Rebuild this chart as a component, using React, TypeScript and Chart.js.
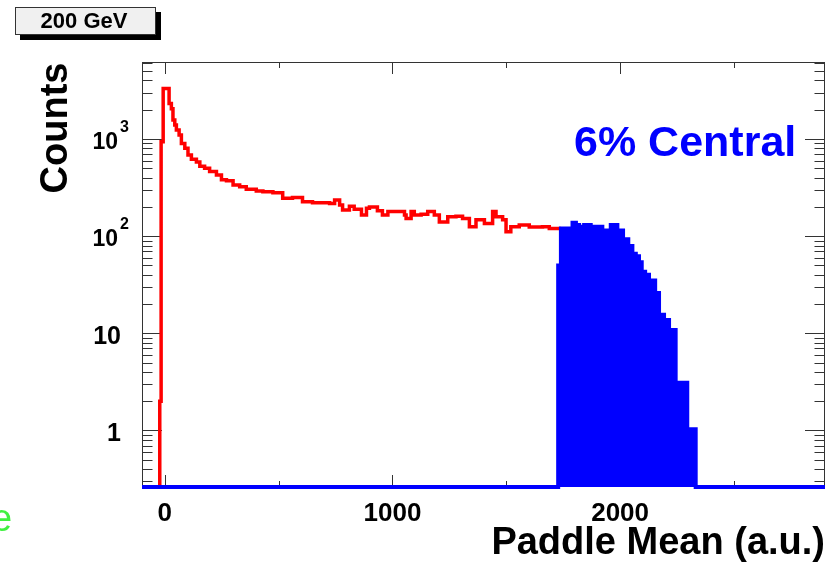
import React, { useEffect, useRef } from 'react';
import { Chart, registerables } from 'chart.js';

Chart.register(...registerables);

// ---- axis ranges & ticks ----
const xMin = -100;
const xMax = 2900;
const yMin = 0.262;
const yMax = 6194;
const floorCount = yMin; // empty bins are drawn on the axis floor (log scale)
const xMajorTicks = [0, 1000, 2000];
const xMinorTicks = [500, 1500, 2500];
const xTickLabels = ['0', '1000', '2000'];
const yDecades = [1, 10, 100, 1000];
const yLabelBases = ['1', '10', '10', '10'];
const yLabelExps = ['', '', '2', '3'];

// ---- red histogram (all events): bin edges and counts ----
const redEdges = [
  -22, -16, -7, 19, 29, 36, 44, 51, 63, 73,
  88, 102, 117, 139, 154, 175, 197, 227, 249, 271,
  300, 329, 358, 402, 431, 475, 518, 561, 605, 649,
  724, 746, 768, 781, 811, 832, 864, 886, 899, 934,
  956, 980, 1053, 1060, 1082, 1096, 1126, 1155, 1184, 1206,
  1243, 1279, 1308, 1338, 1367, 1404, 1440, 1455, 1484, 1499,
  1520, 1557, 1601, 1630, 1659, 1689, 1740,
];
const redCounts = [
  2, 935, 3300, 2320, 2050, 1570, 1390, 1240, 1100, 900,
  800, 685, 620, 580, 525, 500, 463, 425, 380, 372,
  335, 323, 303, 292, 286, 280, 245, 250, 226, 220,
  217, 235, 209, 186, 203, 189, 165, 194, 200, 183,
  165, 179, 165, 152, 179, 165, 168, 179, 165, 140,
  158, 160, 152, 125, 147, 135, 179, 158, 147, 111,
  125, 130, 124, 124, 125, 120,
];

// ---- blue histogram (6% central): bin edges and counts ----
const blueEdges = [
  1728, 1740, 1791, 1806, 1820, 1842, 1871, 1922, 1930, 1959,
  1988, 2013, 2036, 2054, 2069, 2083, 2095, 2110, 2127, 2154,
  2171, 2193, 2215, 2244, 2295, 2332,
];
const blueCounts = [
  50, 120, 137, 130, 125, 130, 125, 107, 114, 130,
  114, 93, 79, 66, 62, 54, 43, 40, 35, 26,
  15.5, 13.7, 10.8, 3.1, 1.03,
];

const FONT = '"Liberation Sans", Arial, Helvetica, sans-serif';

function redPoints() {
  const pts: { x: number; y: number }[] = [{ x: redEdges[0], y: floorCount }];
  for (let i = 0; i < redCounts.length; i++) pts.push({ x: redEdges[i], y: redCounts[i] });
  pts.push({ x: redEdges[redCounts.length], y: redCounts[redCounts.length - 1] });
  return pts;
}

function bluePoints() {
  const pts: { x: number; y: number }[] = [{ x: xMin, y: floorCount }];
  for (let i = 0; i < blueCounts.length; i++) pts.push({ x: blueEdges[i], y: blueCounts[i] });
  pts.push({ x: blueEdges[blueCounts.length], y: floorCount });
  pts.push({ x: xMax, y: floorCount });
  return pts;
}

const rootStyle = {
  id: 'rootStyle',
  beforeDatasetsDraw(chart: any) {
    const { ctx, chartArea: a, scales } = chart;
    const x = scales.x;
    const y = scales.y;
    ctx.save();
    ctx.strokeStyle = '#333';
    ctx.lineWidth = 1;
    ctx.strokeRect(a.left + 0.5, a.top + 0.5, a.right - a.left - 1, a.bottom - a.top - 1);
    ctx.beginPath();
    const xt = (v: number, len: number) => {
      const px = Math.round(x.getPixelForValue(v)) + 0.5;
      ctx.moveTo(px, a.bottom);
      ctx.lineTo(px, a.bottom - len);
      ctx.moveTo(px, a.top);
      ctx.lineTo(px, a.top + len);
    };
    xMajorTicks.forEach((v) => xt(v, 12));
    xMinorTicks.forEach((v) => xt(v, 6));
    const yt = (v: number, len: number) => {
      const py = Math.round(y.getPixelForValue(v)) + 0.5;
      ctx.moveTo(a.left, py);
      ctx.lineTo(a.left + len, py);
      ctx.moveTo(a.right, py);
      ctx.lineTo(a.right - len, py);
    };
    for (let k = -1; k <= 3; k++) {
      const d = Math.pow(10, k);
      for (let m = 1; m <= 9; m++) {
        const v = m * d;
        if (v < yMin || v > yMax) continue;
        yt(v, m === 1 ? 20 : 10.5);
      }
    }
    ctx.stroke();
    ctx.restore();
  },
  afterDraw(chart: any) {
    const { ctx, scales } = chart;
    const x = scales.x;
    const y = scales.y;
    ctx.save();
    ctx.fillStyle = '#000';
    // x tick labels
    ctx.font = `bold 26px ${FONT}`;
    ctx.textAlign = 'center';
    ctx.textBaseline = 'alphabetic';
    xMajorTicks.forEach((v, i) => {
      ctx.fillText(xTickLabels[i], x.getPixelForValue(v), 521);
    });
    // y tick labels
    yDecades.forEach((v, i) => {
      const py = y.getPixelForValue(v);
      if (yLabelExps[i]) {
        ctx.font = `bold 23px ${FONT}`;
        ctx.textAlign = 'right';
        ctx.fillText(yLabelBases[i], 118, py + 10);
        ctx.font = `bold 16px ${FONT}`;
        ctx.textAlign = 'left';
        ctx.fillText(yLabelExps[i], 120, py - 7);
      } else {
        ctx.font = `bold 25px ${FONT}`;
        ctx.textAlign = 'right';
        ctx.fillText(yLabelBases[i], 121, py + 11);
      }
    });
    // axis titles
    ctx.font = `bold 38px ${FONT}`;
    ctx.textAlign = 'right';
    ctx.fillText('Paddle Mean (a.u.)', 825, 554);
    ctx.save();
    ctx.translate(67, 128);
    ctx.rotate(-Math.PI / 2);
    ctx.textAlign = 'center';
    ctx.fillText('Counts', 0, 0);
    ctx.restore();
    // annotation
    ctx.fillStyle = '#0000ff';
    ctx.font = `bold 43px ${FONT}`;
    ctx.textAlign = 'left';
    ctx.fillText('6% Central', 574, 156);
    // energy box
    ctx.fillStyle = '#000';
    ctx.fillRect(20, 12, 141, 28);
    ctx.fillStyle = '#f0f0f0';
    ctx.fillRect(15, 7, 141, 28);
    ctx.strokeStyle = '#333';
    ctx.lineWidth = 1;
    ctx.strokeRect(15.5, 7.5, 140, 27);
    ctx.fillStyle = '#000';
    ctx.font = `bold 22px ${FONT}`;
    ctx.textAlign = 'center';
    ctx.fillText('200 GeV', 84, 28);
    // clipped green text at left edge
    ctx.fillStyle = '#40f040';
    ctx.font = `38px ${FONT}`;
    ctx.textAlign = 'left';
    ctx.fillText('e', -9, 531);
    ctx.restore();
  },
};

export default function App() {
  const ref = useRef<HTMLCanvasElement | null>(null);
  useEffect(() => {
    if (!ref.current) return;
    const chart = new Chart(ref.current, {
      type: 'line',
      data: {
        datasets: [
          {
            label: '6% Central',
            data: bluePoints(),
            stepped: true,
            borderColor: '#0000ff',
            backgroundColor: '#0000ff',
            borderWidth: 4,
            fill: 'start',
            pointRadius: 0,
            tension: 0,
            borderJoinStyle: 'miter',
            clip: { left: 0, right: 0, top: 2, bottom: 3 },
          },
          {
            label: 'All',
            data: redPoints(),
            stepped: true,
            borderColor: '#ff0000',
            borderWidth: 3.5,
            fill: false,
            pointRadius: 0,
            tension: 0,
            borderJoinStyle: 'miter',
          },
        ],
      },
      options: {
        animation: false,
        responsive: false,
        devicePixelRatio: 1,
        layout: { padding: { left: 142, right: 13, top: 62, bottom: 79 } },
        plugins: { legend: { display: false }, tooltip: { enabled: false } },
        scales: {
          x: { type: 'linear', min: xMin, max: xMax, display: false },
          y: { type: 'logarithmic', min: yMin, max: yMax, display: false },
        },
      },
      plugins: [rootStyle],
    });
    return () => chart.destroy();
  }, []);
  return (
    <div style={{ position: 'fixed', left: 0, top: 0, width: 838, height: 566, background: '#fff' }}>
      <canvas ref={ref} width={838} height={566} style={{ width: 838, height: 566, display: 'block' }} />
    </div>
  );
}
